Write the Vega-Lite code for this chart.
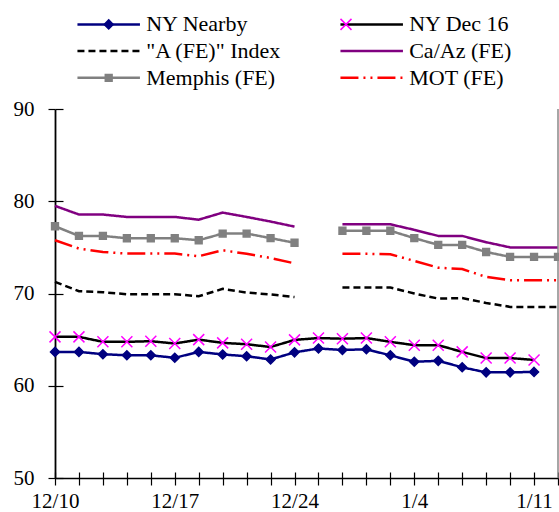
{
  "$schema": "https://vega.github.io/schema/vega-lite/v6.json",
  "width": 503,
  "height": 369,
  "autosize": {"type": "none"},
  "padding": {"left": 55, "top": 109, "right": 1, "bottom": 34},
  "config": {
    "view": {"stroke": null},
    "font": "Liberation Serif",
    "axis": {"grid": false, "title": null, "labelFont": "Liberation Serif", "labelFontSize": 21, "labelColor": "#000", "tickColor": "#000", "domainColor": "#000"},
    "legend": {"labelFont": "Liberation Serif", "labelFontSize": 22, "direction": "horizontal"}
  },
  "data": {
    "values": [
      {"i": 0, "series": "NY Nearby", "value": 63.67}, {"i": 1, "series": "NY Nearby", "value": 63.67}, {"i": 2, "series": "NY Nearby", "value": 63.42}, {"i": 3, "series": "NY Nearby", "value": 63.3}, {"i": 4, "series": "NY Nearby", "value": 63.3}, {"i": 5, "series": "NY Nearby", "value": 63.03}, {"i": 6, "series": "NY Nearby", "value": 63.67}, {"i": 7, "series": "NY Nearby", "value": 63.39}, {"i": 8, "series": "NY Nearby", "value": 63.2}, {"i": 9, "series": "NY Nearby", "value": 62.85}, {"i": 10, "series": "NY Nearby", "value": 63.62}, {"i": 11, "series": "NY Nearby", "value": 64.04}, {"i": 12, "series": "NY Nearby", "value": 63.88}, {"i": 13, "series": "NY Nearby", "value": 63.95}, {"i": 14, "series": "NY Nearby", "value": 63.3}, {"i": 15, "series": "NY Nearby", "value": 62.6}, {"i": 16, "series": "NY Nearby", "value": 62.7}, {"i": 17, "series": "NY Nearby", "value": 62.0}, {"i": 18, "series": "NY Nearby", "value": 61.45}, {"i": 19, "series": "NY Nearby", "value": 61.45}, {"i": 20, "series": "NY Nearby", "value": 61.5},
      {"i": 0, "series": "NY Dec 16", "value": 65.3}, {"i": 1, "series": "NY Dec 16", "value": 65.3}, {"i": 2, "series": "NY Dec 16", "value": 64.76}, {"i": 3, "series": "NY Dec 16", "value": 64.76}, {"i": 4, "series": "NY Dec 16", "value": 64.83}, {"i": 5, "series": "NY Dec 16", "value": 64.58}, {"i": 6, "series": "NY Dec 16", "value": 65.0}, {"i": 7, "series": "NY Dec 16", "value": 64.65}, {"i": 8, "series": "NY Dec 16", "value": 64.5}, {"i": 9, "series": "NY Dec 16", "value": 64.2}, {"i": 10, "series": "NY Dec 16", "value": 64.97}, {"i": 11, "series": "NY Dec 16", "value": 65.17}, {"i": 12, "series": "NY Dec 16", "value": 65.1}, {"i": 13, "series": "NY Dec 16", "value": 65.17}, {"i": 14, "series": "NY Dec 16", "value": 64.76}, {"i": 15, "series": "NY Dec 16", "value": 64.4}, {"i": 16, "series": "NY Dec 16", "value": 64.4}, {"i": 17, "series": "NY Dec 16", "value": 63.67}, {"i": 18, "series": "NY Dec 16", "value": 63.0}, {"i": 19, "series": "NY Dec 16", "value": 63.0}, {"i": 20, "series": "NY Dec 16", "value": 62.8},
      {"i": 0, "series": "\"A (FE)\" Index", "value": 71.26}, {"i": 1, "series": "\"A (FE)\" Index", "value": 70.25}, {"i": 2, "series": "\"A (FE)\" Index", "value": 70.14}, {"i": 3, "series": "\"A (FE)\" Index", "value": 69.92}, {"i": 4, "series": "\"A (FE)\" Index", "value": 69.92}, {"i": 5, "series": "\"A (FE)\" Index", "value": 69.92}, {"i": 6, "series": "\"A (FE)\" Index", "value": 69.7}, {"i": 7, "series": "\"A (FE)\" Index", "value": 70.5}, {"i": 8, "series": "\"A (FE)\" Index", "value": 70.1}, {"i": 9, "series": "\"A (FE)\" Index", "value": 69.9}, {"i": 10, "series": "\"A (FE)\" Index", "value": 69.62}, {"i": 11, "series": "\"A (FE)\" Index", "value": null}, {"i": 12, "series": "\"A (FE)\" Index", "value": 70.65}, {"i": 13, "series": "\"A (FE)\" Index", "value": 70.65}, {"i": 14, "series": "\"A (FE)\" Index", "value": 70.65}, {"i": 15, "series": "\"A (FE)\" Index", "value": 70.0}, {"i": 16, "series": "\"A (FE)\" Index", "value": 69.45}, {"i": 17, "series": "\"A (FE)\" Index", "value": 69.5}, {"i": 18, "series": "\"A (FE)\" Index", "value": 68.98}, {"i": 19, "series": "\"A (FE)\" Index", "value": 68.55}, {"i": 20, "series": "\"A (FE)\" Index", "value": 68.55}, {"i": 21, "series": "\"A (FE)\" Index", "value": 68.55},
      {"i": 0, "series": "Ca/Az (FE)", "value": 79.5}, {"i": 1, "series": "Ca/Az (FE)", "value": 78.56}, {"i": 2, "series": "Ca/Az (FE)", "value": 78.56}, {"i": 3, "series": "Ca/Az (FE)", "value": 78.3}, {"i": 4, "series": "Ca/Az (FE)", "value": 78.3}, {"i": 5, "series": "Ca/Az (FE)", "value": 78.3}, {"i": 6, "series": "Ca/Az (FE)", "value": 78.0}, {"i": 7, "series": "Ca/Az (FE)", "value": 78.77}, {"i": 8, "series": "Ca/Az (FE)", "value": 78.3}, {"i": 9, "series": "Ca/Az (FE)", "value": 77.8}, {"i": 10, "series": "Ca/Az (FE)", "value": 77.25}, {"i": 11, "series": "Ca/Az (FE)", "value": null}, {"i": 12, "series": "Ca/Az (FE)", "value": 77.5}, {"i": 13, "series": "Ca/Az (FE)", "value": 77.5}, {"i": 14, "series": "Ca/Az (FE)", "value": 77.5}, {"i": 15, "series": "Ca/Az (FE)", "value": 76.9}, {"i": 16, "series": "Ca/Az (FE)", "value": 76.24}, {"i": 17, "series": "Ca/Az (FE)", "value": 76.24}, {"i": 18, "series": "Ca/Az (FE)", "value": 75.56}, {"i": 19, "series": "Ca/Az (FE)", "value": 75.0}, {"i": 20, "series": "Ca/Az (FE)", "value": 75.0}, {"i": 21, "series": "Ca/Az (FE)", "value": 75.0},
      {"i": 0, "series": "Memphis (FE)", "value": 77.29}, {"i": 1, "series": "Memphis (FE)", "value": 76.24}, {"i": 2, "series": "Memphis (FE)", "value": 76.24}, {"i": 3, "series": "Memphis (FE)", "value": 75.99}, {"i": 4, "series": "Memphis (FE)", "value": 75.99}, {"i": 5, "series": "Memphis (FE)", "value": 75.99}, {"i": 6, "series": "Memphis (FE)", "value": 75.77}, {"i": 7, "series": "Memphis (FE)", "value": 76.5}, {"i": 8, "series": "Memphis (FE)", "value": 76.5}, {"i": 9, "series": "Memphis (FE)", "value": 76.0}, {"i": 10, "series": "Memphis (FE)", "value": 75.5}, {"i": 11, "series": "Memphis (FE)", "value": null}, {"i": 12, "series": "Memphis (FE)", "value": 76.8}, {"i": 13, "series": "Memphis (FE)", "value": 76.8}, {"i": 14, "series": "Memphis (FE)", "value": 76.8}, {"i": 15, "series": "Memphis (FE)", "value": 76.0}, {"i": 16, "series": "Memphis (FE)", "value": 75.27}, {"i": 17, "series": "Memphis (FE)", "value": 75.27}, {"i": 18, "series": "Memphis (FE)", "value": 74.5}, {"i": 19, "series": "Memphis (FE)", "value": 73.97}, {"i": 20, "series": "Memphis (FE)", "value": 73.97}, {"i": 21, "series": "Memphis (FE)", "value": 73.97},
      {"i": 0, "series": "MOT (FE)", "value": 75.77}, {"i": 1, "series": "MOT (FE)", "value": 74.87}, {"i": 2, "series": "MOT (FE)", "value": 74.5}, {"i": 3, "series": "MOT (FE)", "value": 74.33}, {"i": 4, "series": "MOT (FE)", "value": 74.33}, {"i": 5, "series": "MOT (FE)", "value": 74.33}, {"i": 6, "series": "MOT (FE)", "value": 74.04}, {"i": 7, "series": "MOT (FE)", "value": 74.69}, {"i": 8, "series": "MOT (FE)", "value": 74.3}, {"i": 9, "series": "MOT (FE)", "value": 73.85}, {"i": 10, "series": "MOT (FE)", "value": 73.27}, {"i": 11, "series": "MOT (FE)", "value": null}, {"i": 12, "series": "MOT (FE)", "value": 74.3}, {"i": 13, "series": "MOT (FE)", "value": 74.3}, {"i": 14, "series": "MOT (FE)", "value": 74.26}, {"i": 15, "series": "MOT (FE)", "value": 73.53}, {"i": 16, "series": "MOT (FE)", "value": 72.8}, {"i": 17, "series": "MOT (FE)", "value": 72.65}, {"i": 18, "series": "MOT (FE)", "value": 71.8}, {"i": 19, "series": "MOT (FE)", "value": 71.44}, {"i": 20, "series": "MOT (FE)", "value": 71.44}, {"i": 21, "series": "MOT (FE)", "value": 71.44}
    ]
  },
  "layer": [
    {
      "mark": {"type": "line", "strokeWidth": 2.5, "invalid": "break-paths-show-domains"},
      "encoding": {
        "x": {"field": "i", "type": "quantitative", "scale": {"domain": [0, 21], "nice": false, "zero": false},
          "axis": {"orient": "bottom", "values": [0,1,2,3,4,5,6,7,8,9,10,11,12,13,14,15,16,17,18,19,20,21], "tickSize": 7, "tickWidth": 1.2, "domainWidth": 1.5, "labelPadding": 5, "labelOverlap": false, "labelFlush": false,
            "labelExpr": "datum.value==0?'12/10':datum.value==5?'12/17':datum.value==10?'12/24':datum.value==15?'1/4':datum.value==20?'1/11':''"}},
        "y": {"field": "value", "type": "quantitative", "scale": {"domain": [50, 90], "nice": false, "zero": false},
          "axis": {"orient": "left", "values": [50, 60, 70, 80, 90], "tickSize": 7, "tickWidth": 1.2, "domainWidth": 1.8, "labelPadding": 14}},
        "stroke": {"field": "series", "type": "nominal",
          "scale": {"domain": ["NY Nearby", "NY Dec 16", "\"A (FE)\" Index", "Ca/Az (FE)", "Memphis (FE)", "MOT (FE)"], "range": ["#000080", "#000000", "#000000", "#800080", "#808080", "#FF0000"]},
          "legend": {"orient": "none", "direction": "horizontal", "legendX": 42.7, "legendY": -95.6, "padding": 0, "title": null, "columns": 2, "columnPadding": 53, "rowPadding": 4.7, "symbolType": "M-6.25,0H6.25", "symbolSize": 100, "symbolStrokeWidth": 2.5, "labelOffset": 26.5, "labelFont": "Liberation Serif", "labelFontSize": 22, "labelColor": "#000", "labelLimit": 0}},
        "strokeDash": {"field": "series", "type": "nominal",
          "scale": {"domain": ["NY Nearby", "NY Dec 16", "\"A (FE)\" Index", "Ca/Az (FE)", "Memphis (FE)", "MOT (FE)"], "range": [[1, 0], [1, 0], [7, 4], [1, 0], [1, 0], [18, 5, 2, 5, 2, 5]]},
          "legend": {"orient": "none", "direction": "horizontal", "legendX": 42.7, "legendY": -95.6, "padding": 0, "title": null, "columns": 2, "columnPadding": 53, "rowPadding": 4.7, "symbolType": "M-6.25,0H6.25", "symbolSize": 100, "symbolStrokeWidth": 2.5, "labelOffset": 26.5, "labelFont": "Liberation Serif", "labelFontSize": 22, "labelColor": "#000", "labelLimit": 0}}
      }
    },
    {
      "mark": {"type": "point", "size": 100, "strokeWidth": 1.5, "opacity": 1},
      "encoding": {
        "x": {"field": "i", "type": "quantitative",
          "axis": {"orient": "bottom", "values": [0,1,2,3,4,5,6,7,8,9,10,11,12,13,14,15,16,17,18,19,20,21], "tickSize": -6, "tickWidth": 1.2, "labels": false, "domain": false}},
        "y": {"field": "value", "type": "quantitative",
          "axis": {"orient": "left", "values": [50, 60, 70, 80, 90], "tickSize": -8, "tickWidth": 1.2, "labels": false, "domain": false}},
        "shape": {"field": "series", "type": "nominal",
          "scale": {"domain": ["NY Nearby", "NY Dec 16", "\"A (FE)\" Index", "Ca/Az (FE)", "Memphis (FE)", "MOT (FE)"], "range": ["M0,-0.9L0.9,0L0,0.9L-0.9,0Z", "M-1.1,-1.1L1.1,1.1M-1.1,1.1L1.1,-1.1", "M0,0", "M0,0", "M-0.68,-0.68H0.68V0.68H-0.68Z", "M0,0"]},
          "legend": {"orient": "none", "direction": "horizontal", "legendX": 42.7, "legendY": -95.6, "padding": 0, "title": null, "columns": 2, "columnPadding": 188.3, "rowPadding": 4.7, "symbolSize": 100, "symbolStrokeWidth": 1.5, "symbolOpacity": 1, "labelOffset": 26.5, "labelFont": "Liberation Serif", "labelFontSize": 22, "labelExpr": "''", "labelLimit": 0}},
        "fill": {"field": "series", "type": "nominal",
          "scale": {"domain": ["NY Nearby", "NY Dec 16", "\"A (FE)\" Index", "Ca/Az (FE)", "Memphis (FE)", "MOT (FE)"], "range": ["#000080", "transparent", "transparent", "transparent", "#808080", "transparent"]},
          "legend": {"orient": "none", "direction": "horizontal", "legendX": 42.7, "legendY": -95.6, "padding": 0, "title": null, "columns": 2, "columnPadding": 188.3, "rowPadding": 4.7, "symbolSize": 100, "symbolStrokeWidth": 1.5, "symbolOpacity": 1, "labelOffset": 26.5, "labelFont": "Liberation Serif", "labelFontSize": 22, "labelExpr": "''", "labelLimit": 0}},
        "stroke": {"field": "series", "type": "nominal",
          "scale": {"domain": ["NY Nearby", "NY Dec 16", "\"A (FE)\" Index", "Ca/Az (FE)", "Memphis (FE)", "MOT (FE)"], "range": ["#000080", "#FF00FF", "transparent", "transparent", "#808080", "transparent"]},
          "legend": {"orient": "none", "direction": "horizontal", "legendX": 42.7, "legendY": -95.6, "padding": 0, "title": null, "columns": 2, "columnPadding": 188.3, "rowPadding": 4.7, "symbolSize": 100, "symbolStrokeWidth": 1.5, "symbolOpacity": 1, "labelOffset": 26.5, "labelFont": "Liberation Serif", "labelFontSize": 22, "labelExpr": "''", "labelLimit": 0}}
      }
    },
    {
      "data": {"values": [{}]},
      "mark": {"type": "rule", "color": "#888888", "strokeWidth": 1.5},
      "encoding": {"x": {"datum": 21, "type": "quantitative", "axis": null}}
    }
  ],
  "resolve": {
    "scale": {"stroke": "independent", "strokeDash": "independent", "shape": "independent", "fill": "independent"},
    "axis": {"x": "independent", "y": "independent"}
  }
}
